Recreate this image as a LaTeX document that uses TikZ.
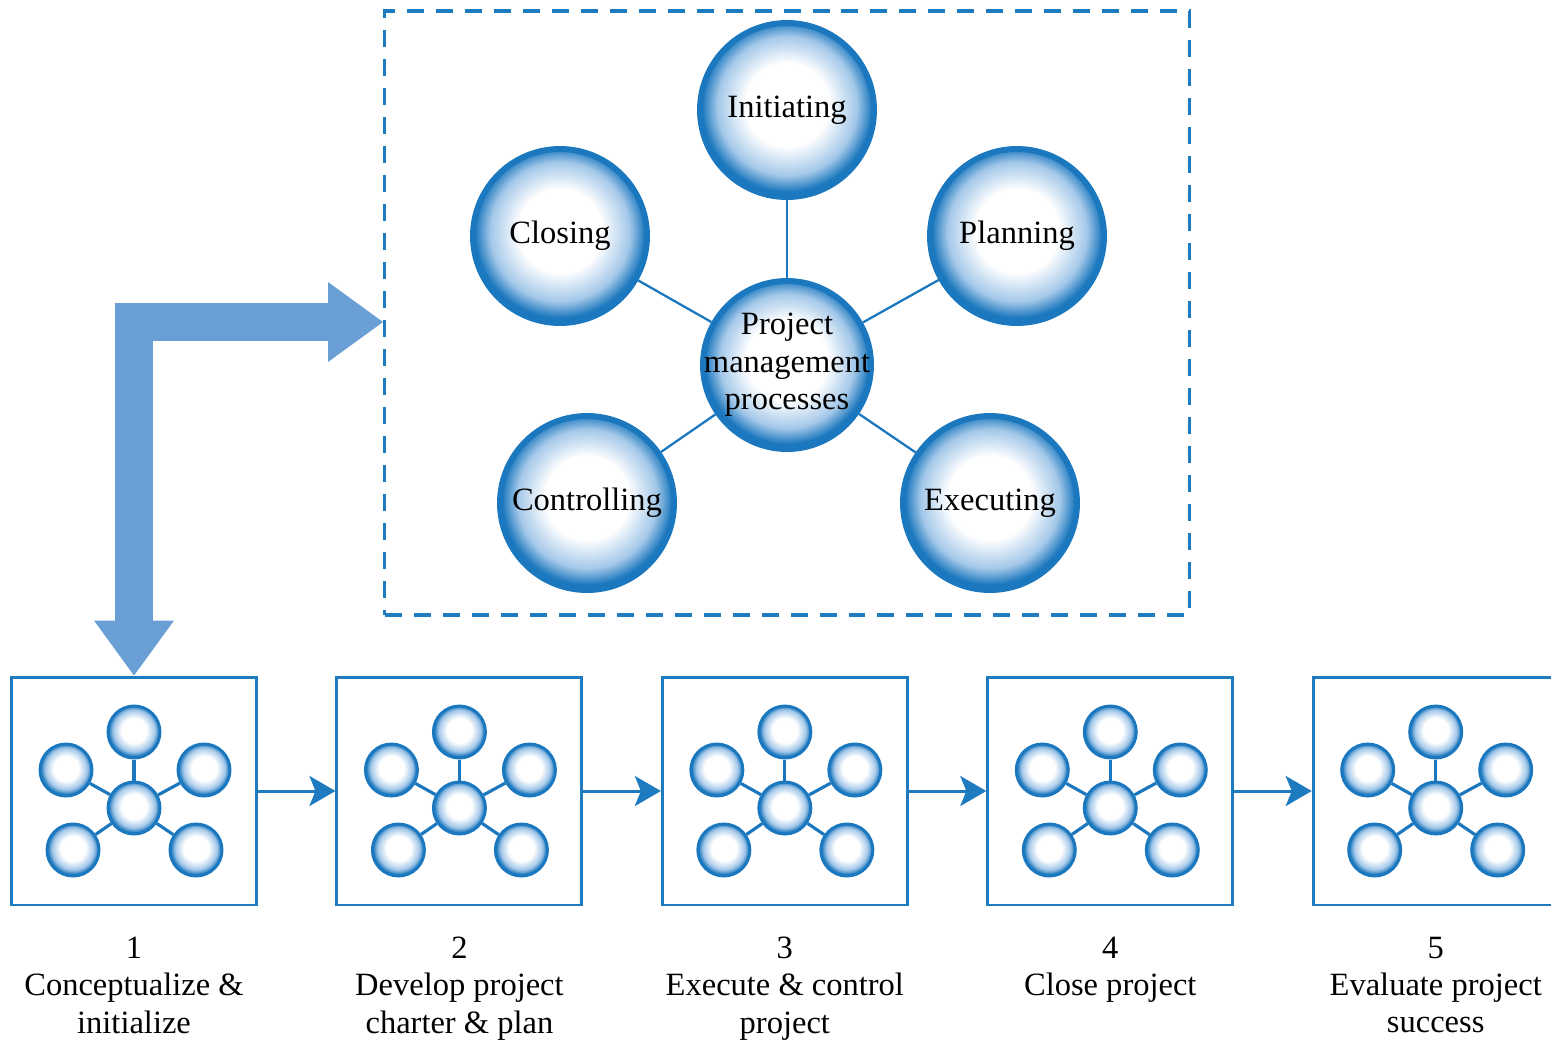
\documentclass[tikz,border=0pt]{standalone}
\usepackage{fontspec}
\setmainfont{Liberation Serif}
\usetikzlibrary{positioning, arrows.meta}

\definecolor{ballblue}{HTML}{1C78BE}
\definecolor{ballmid}{HTML}{A4C8E9}
\definecolor{lineblue}{HTML}{1F7BC0}
\definecolor{arrowfill}{HTML}{6A9FD5}

\pgfdeclareradialshading{ballshade}{\pgfpoint{0bp}{2bp}}{color(0bp)=(white); color(12bp)=(white); color(20bp)=(ballmid); color(24.5bp)=(ballblue); color(50bp)=(ballblue)}

\newcommand{\stepfont}{\fontsize{18.5}{21.3}\selectfont}

\begin{document}
\begin{tikzpicture}[
        x=0.02cm, y=-0.02cm,
        ball/.style={circle, draw=ballblue, line width=3.4pt, shading=ballshade, minimum size=3.48cm, inner sep=0pt, align=center, font=\stepfont},
        hubball/.style={ball, minimum size=3.36cm, inner sep=-0.5cm},
        link/.style={draw=ballblue, line width=1.3pt},
        mini/.style={circle, draw=ballblue, line width=1.7pt, shading=ballshade, minimum size=1.04cm, inner sep=0pt},
        minilink/.style={draw=ballblue, line width=1.8pt},
        dashframe/.style={draw=lineblue, line width=1.8pt, dash pattern=on 0.34cm off 0.24cm, minimum width=16.1cm, minimum height=12.08cm},
        stepbox/.style={draw=lineblue, line width=1.7pt, minimum width=4.9cm, minimum height=4.56cm},
        steplabel/.style={align=center, inner sep=0pt, font=\stepfont},
        flow/.style={draw=lineblue, line width=1.7pt, -{Stealth[length=0.52cm, width=0.6cm, inset=0.12cm]}},
        bigarrow/.style={draw=arrowfill, line width=0.76cm, {Triangle[length=1.1cm, width=1.6cm, line width=0pt]}-{Triangle[length=1.1cm, width=1.6cm, line width=0pt]}}
    ]
        \useasboundingbox (0,0) rectangle (1551,1039);

        % process group
        \node[dashframe] (frame) at (787,313) {};
        \node[hubball] (hub) at (787,365) {Project\\management\\processes};
        \node[ball] (init) at (787,110) {Initiating};
        \node[ball] (plan) at (1017,236) {Planning};
        \node[ball] (exec) at (990,503) {Executing};
        \node[ball] (ctrl) at (587,503) {Controlling};
        \node[ball] (close) at (560,236) {Closing};

        \draw[link] (hub) -- (init);
        \draw[link] (hub) -- (plan);
        \draw[link] (hub) -- (exec);
        \draw[link] (hub) -- (ctrl);
        \draw[link] (hub) -- (close);

        % life cycle steps
        \node[stepbox] (box1) at (134,791) {};
        \node[stepbox, right=1.55cm of box1] (box2) {};
        \node[stepbox, right=1.55cm of box2] (box3) {};
        \node[stepbox, right=1.55cm of box3] (box4) {};
        \node[stepbox, right=1.55cm of box4] (box5) {};

        \foreach \i in {1,...,5} {
            \node[mini] (m\i-c) at ([shift={(0,17)}]box\i.center) {};
            \node[mini] (m\i-t) at ([shift={(0,-76)}]m\i-c) {};
            \node[mini] (m\i-ul) at ([shift={(-68,-38)}]m\i-c) {};
            \node[mini] (m\i-ur) at ([shift={(70,-38)}]m\i-c) {};
            \node[mini] (m\i-ll) at ([shift={(-61,42)}]m\i-c) {};
            \node[mini] (m\i-lr) at ([shift={(62,42)}]m\i-c) {};
            \foreach \j in {t,ul,ur,ll,lr}
                \draw[minilink] (m\i-c) -- (m\i-\j);
        }

        \node[steplabel, below=0.6cm of box1] (lab1) {1\\Conceptualize \&\\initialize};
        \node[steplabel, below=0.6cm of box2] (lab2) {2\\Develop project\\charter \& plan};
        \node[steplabel, below=0.6cm of box3] (lab3) {3\\Execute \& control\\project};
        \node[steplabel, below=0.6cm of box4] (lab4) {4\\Close project};
        \node[steplabel, below=0.6cm of box5] (lab5) {5\\Evaluate project\\success};

        \draw[flow] (box1) -- (box2);
        \draw[flow] (box2) -- (box3);
        \draw[flow] (box3) -- (box4);
        \draw[flow] (box4) -- (box5);

        \draw[bigarrow] (box1.north) |- ([yshift=-0.18cm]frame.west);

    \end{tikzpicture}
\end{document}
